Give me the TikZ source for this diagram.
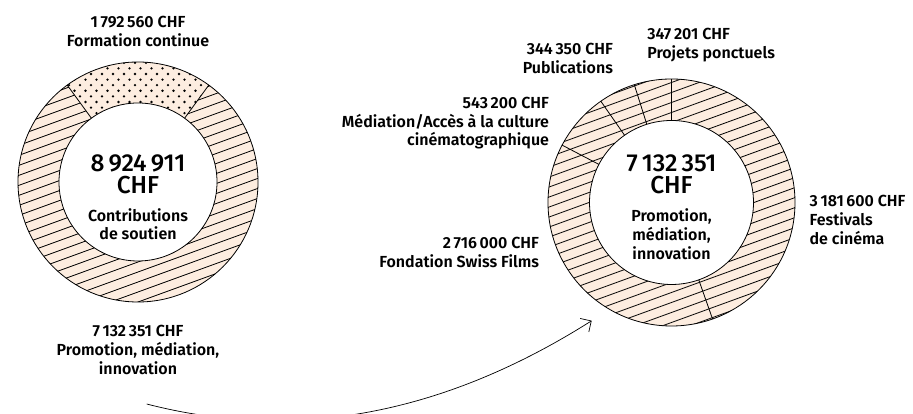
\documentclass[tikz,border=0pt]{standalone}
\usepackage{fontspec}
\setmainfont{Fira Sans}[UprightFont=* SemiBold]
\newfontfamily\bignum{Fira Sans}[UprightFont=* Medium]
\usepackage{tikz}
\usetikzlibrary{arrows.meta,calc}

\definecolor{peach}{RGB}{253,237,224}

\begin{document}
\begin{tikzpicture}[x=1pt,y=1pt,>={Straight Barb[length=8pt,width=16pt]},
                    semithick]

  \tikzstyle{rim}=[line width=0.8pt]
  \tikzstyle{hatch}=[line width=0.8pt]
  \tikzstyle{label}=[inner sep=0pt,font=\fontsize{16}{18.8}\selectfont]
  \tikzstyle{big}=[inner sep=0pt,font=\bignum\fontsize{24.5}{22.6}\selectfont,
                   align=center,anchor=north]

  \useasboundingbox (0,0) rectangle (913,414);
  \clip (0,0) rectangle (913,414);

  \coordinate (LC) at (138,232);
  \coordinate (RC) at (671.5,211.5);

  % left ring: contributions de soutien
  \fill[peach] ($(LC)+(0:120)$) arc[start angle=0,end angle=360,radius=120]
    -- ($(LC)+(360:79)$) arc[start angle=360,end angle=0,radius=79] -- cycle;
  \begin{scope}
    \clip ($(LC)+(126.15:120)$) arc[start angle=126.15,end angle=413.85,radius=120]
      -- ($(LC)+(413.85:79)$) arc[start angle=413.85,end angle=126.15,radius=79] -- cycle;
    \foreach \k in {-18,...,18}
      \draw[hatch] ($(LC)+(-130,\k*10-47.3)$) -- ($(LC)+(130,\k*10+47.3)$);
  \end{scope}
  \begin{scope}
    \clip ($(LC)+(53.85:120)$) arc[start angle=53.85,end angle=126.15,radius=120]
      -- ($(LC)+(126.15:79)$) arc[start angle=126.15,end angle=53.85,radius=79] -- cycle;
    \foreach \j [evaluate=\j as \off using {mod(\j,2)*5.5}] in {0,...,13}
      \foreach \i in {0,...,15}
        \fill ($(LC)+(-80+\i*11+\off,52+\j*5.6)$) circle (1.3);
  \end{scope}
  \draw[rim] (LC) circle (120) (LC) circle (79);
  \foreach \a in {53.85,126.15}
    \draw[rim] ($(LC)+(\a:79)$) -- ($(LC)+(\a:120)$);

  % right ring: promotion, mediation, innovation
  \fill[peach] ($(RC)+(0:123.5)$) arc[start angle=0,end angle=360,radius=123.5]
    -- ($(RC)+(360:82)$) arc[start angle=360,end angle=0,radius=82] -- cycle;
  \begin{scope}
    \clip ($(RC)+(0:123.5)$) arc[start angle=0,end angle=360,radius=123.5]
      -- ($(RC)+(360:82)$) arc[start angle=360,end angle=0,radius=82] -- cycle;
    \foreach \k in {-18,...,18}
      \draw[hatch] ($(RC)+(-135,\k*10-49.1)$) -- ($(RC)+(135,\k*10+49.1)$);
  \end{scope}
  \draw[rim] (RC) circle (123.5) (RC) circle (82);
  \foreach \a in {90,107.53,124.91,152.32,289.41}
    \draw[rim] ($(RC)+(\a:82)$) -- ($(RC)+(\a:123.5)$);

  % texts
  \node[label,align=center,anchor=north] (FC) at (138,398)
    {1\,792\,560 CHF\\Formation continue};
  \node[big] (CSN) at (138,260) {8\,924\,911\\CHF};
  \node[label,align=center,anchor=north] (CST) at (138,206)
    {Contributions\\de soutien};
  \node[label,align=center,anchor=north] (PMI) at (138,89)
    {7\,132\,351 CHF\\Promotion, médiation,\\innovation};

  \node[label,align=left,anchor=north west] (PP) at (647,386)
    {347\,201 CHF\\Projets ponctuels};
  \node[label,align=right,anchor=north east] (PU) at (613.3,371.3)
    {344\,350 CHF\\Publications};
  \node[label,align=right,anchor=north east] (MA) at (549.3,317.3)
    {543\,200 CHF\\Médiation/Accès à la culture\\cinématographique};
  \node[label,align=right,anchor=north east] (FSF) at (539.3,176.7)
    {2\,716\,000 CHF\\Fondation Swiss Films};
  \node[label,align=left,anchor=north west] (FE) at (809.3,219)
    {3\,181\,600 CHF\\Festivals\\de cinéma};
  \node[big] (PMN) at (671.5,260) {7\,132\,351\\CHF};
  \node[label,align=center,anchor=north] (PMT) at (671.5,205.7)
    {Promotion,\\médiation,\\innovation};

  % flow from left to right
  \coordinate (from) at (146.7,10);
  \coordinate (to)   at (591.7,93.3);
  \draw[->,line width=0.7pt] (from) .. controls (295,-28.3) and (443.4,-0.6) .. (to);
\end{tikzpicture}
\end{document}
